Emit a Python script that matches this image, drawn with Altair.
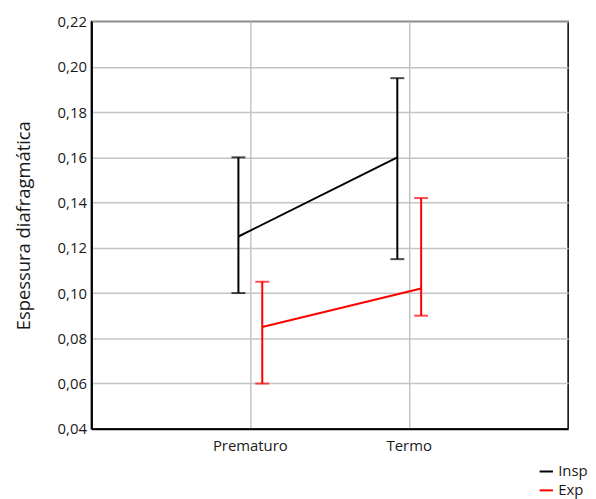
import altair as alt
import pandas as pd

groups = ["Prematuro", "Termo"]
series = ["Insp", "Exp"]
means = {"Insp": [0.125, 0.160], "Exp": [0.085, 0.102]}
lows = {"Insp": [0.100, 0.115], "Exp": [0.060, 0.090]}
highs = {"Insp": [0.160, 0.195], "Exp": [0.105, 0.142]}
y_ticks = [0.04, 0.06, 0.08, 0.10, 0.12, 0.14, 0.16, 0.18, 0.20, 0.22]
colors = ["#000000", "#ff0000"]

rows = []
for s in series:
    for i, g in enumerate(groups):
        rows.append({"grupo": g, "serie": s, "media": means[s][i],
                     "lo": lows[s][i], "hi": highs[s][i]})
df = pd.DataFrame(rows)

FONT = "Open Sans"

x_enc = alt.X("grupo:N", sort=groups,
              scale=alt.Scale(domain=groups, paddingInner=0.4, paddingOuter=0.7),
              axis=alt.Axis(title=None, labelAngle=0, labelFontSize=15, labelFont=FONT,
                            labelColor="#1a1a1a", labelFontWeight=500, labelPadding=10,
                            ticks=False, domain=True, domainColor="#000000", domainWidth=2,
                            grid=True, gridColor="#c4c4c4", gridWidth=1.5, bandPosition=0.5))
xo_enc = alt.XOffset("serie:N", sort=series,
                     scale=alt.Scale(domain=series, paddingInner=0, paddingOuter=1))
y_scale = alt.Scale(domain=[0.04, 0.22], nice=False, zero=False)
color_scale = alt.Scale(domain=series, range=colors)
color_enc = alt.Color("serie:N", sort=series, scale=color_scale,
                      legend=alt.Legend(title=None, orient="none", legendX=450, legendY=445,
                                        symbolType="stroke", symbolStrokeWidth=2, symbolSize=180,
                                        labelFontSize=15, labelFont=FONT, labelColor="#1a1a1a",
                                        rowPadding=3, labelOffset=4))
color_nolegend = alt.Color("serie:N", sort=series, scale=color_scale, legend=None)

y_axis = alt.Axis(title="Espessura diafragmática", titleFontSize=18.5, titleFont=FONT,
                  titleFontWeight="normal", titleColor="#1a1a1a", titlePadding=24,
                  values=y_ticks, labelFontSize=15, labelFont=FONT, labelColor="#1a1a1a",
                  labelExpr="replace(format(datum.value, '.2f'), '.', ',')",
                  ticks=False, labelPadding=5, domain=True, domainColor="#000000",
                  domainWidth=2, grid=True, gridColor="#c4c4c4", gridWidth=1.5)

base = alt.Chart(df)

line = base.mark_line(strokeWidth=2).encode(
    x=x_enc, xOffset=xo_enc,
    y=alt.Y("media:Q", scale=y_scale, axis=y_axis),
    color=color_enc,
)
rule = base.mark_rule(strokeWidth=2).encode(
    x=x_enc, xOffset=xo_enc,
    y=alt.Y("lo:Q", scale=y_scale), y2="hi:Q",
    color=color_nolegend,
)
cap_lo = base.mark_tick(orient="horizontal", size=14, thickness=2).encode(
    x=x_enc, xOffset=xo_enc,
    y=alt.Y("lo:Q", scale=y_scale),
    color=color_nolegend,
)
cap_hi = base.mark_tick(orient="horizontal", size=14, thickness=2).encode(
    x=x_enc, xOffset=xo_enc,
    y=alt.Y("hi:Q", scale=y_scale),
    color=color_nolegend,
)

chart = alt.layer(line, rule, cap_lo, cap_hi).properties(
    width=480, height=410,
    autosize=alt.AutoSizeParams(type="none"),
    padding={"left": 84, "top": 12, "right": 20, "bottom": 70},
).configure_view(stroke="#000000", strokeWidth=1.5)

chart.save("out.html", embed_options={"renderer": "svg", "actions": False})
